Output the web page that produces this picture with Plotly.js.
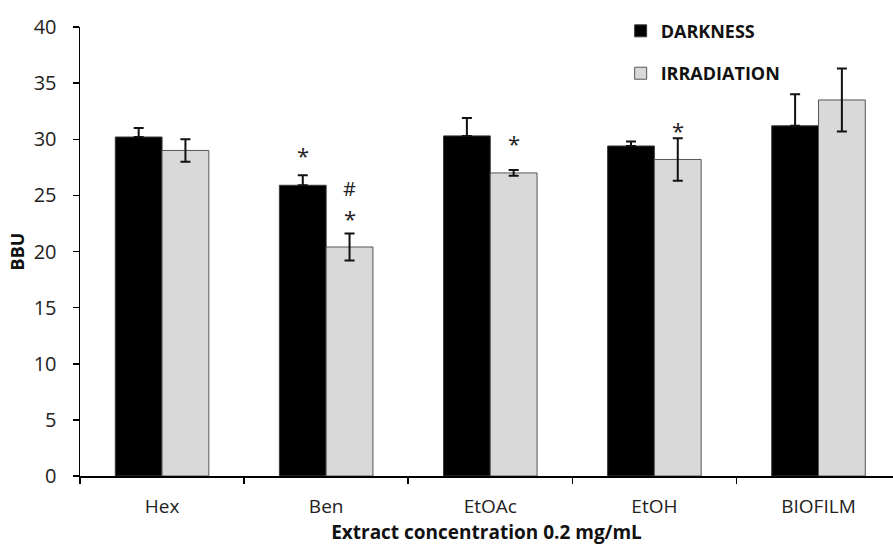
<!DOCTYPE html>
<html><head><meta charset="utf-8">
<script src="https://cdn.plot.ly/plotly-3.0.1.min.js"></script>
<style>html,body{margin:0;padding:0;background:#fff}#chart{width:893px;height:547px}</style>
</head><body><div id="chart"></div>
<script>
const categories = ["Hex", "Ben", "EtOAc", "EtOH", "BIOFILM"];
const darkness = [30.2, 25.9, 30.3, 29.4, 31.2];
const darknessErr = [0.8, 0.9, 1.6, 0.4, 2.8];
const irradiation = [29.0, 20.4, 27.0, 28.2, 33.5];
const irradiationErr = [1.0, 1.2, 0.25, 1.9, 2.8];
const marks = [
  {cat: "Ben", series: "dark", y: 28.6, text: "*"},
  {cat: "Ben", series: "light", y: 25.6, text: "#"},
  {cat: "Ben", series: "light", y: 23.0, text: "*"},
  {cat: "EtOAc", series: "light", y: 29.7, text: "*"},
  {cat: "EtOH", series: "light", y: 30.8, text: "*"}
];
const font = "Open Sans, Noto Sans, sans-serif";
const traces = [
  {type: "bar", name: "DARKNESS", x: categories, y: darkness,
   marker: {color: "#000000", line: {color: "#3a3a3a", width: 1}},
   error_y: {type: "data", array: darknessErr, arrayminus: darknessErr.map(() => 0), symmetric: false,
             color: "#111", thickness: 2, width: 5},
   legendgroup: "a"},
  {type: "bar", name: "IRRADIATION", x: categories, y: irradiation,
   marker: {color: "#d9d9d9", line: {color: "#555555", width: 1}},
   error_y: {type: "data", array: irradiationErr, symmetric: true, color: "#111", thickness: 2, width: 5},
   legendgroup: "b"}
];
const annotations = marks.map(m => ({
  x: m.cat, y: m.y, xref: "x", yref: "y", text: m.text, showarrow: false,
  xshift: m.series === "dark" ? -23.5 : 23.5,
  font: {family: font, size: m.text === "#" ? 20 : 22, color: "#222"}
}));
const layout = {
  width: 893, height: 547,
  margin: {l: 80, r: 0, t: 27, b: 71},
  paper_bgcolor: "#fff", plot_bgcolor: "#fff",
  barmode: "group", bargap: 0.43, bargroupgap: 0,
  showlegend: true,
  legend: {x: 0.665, y: 1.032, xanchor: "left", yanchor: "top", bgcolor: "rgba(0,0,0,0)",
    font: {family: font, size: 18, color: "#111", weight: "bold"},
    tracegroupgap: 16, itemwidth: 30},
  xaxis: {type: "category", range: [-0.5, 4.454], showline: true, linecolor: "#000", linewidth: 1.5,
    ticks: "outside", tickson: "boundaries", ticklen: 6, tickcolor: "#000", tickwidth: 1.5,
    ticklabelstandoff: 13,
    tickfont: {family: font, size: 19, color: "#222"}, showgrid: false, zeroline: false,
    title: {text: "<b>Extract concentration 0.2 mg/mL</b>", font: {family: font, size: 19, color: "#111"}, standoff: 4}},
  yaxis: {range: [0, 40], dtick: 5, showline: true, linecolor: "#000", linewidth: 1.5,
    ticks: "outside", ticklen: 6, tickcolor: "#000", tickwidth: 1.5, showgrid: false, zeroline: false,
    ticklabelstandoff: 12,
    tickfont: {family: font, size: 20, color: "#222"},
    title: {text: "<b>BBU</b>", font: {family: font, size: 18, color: "#111"}, standoff: 4}},
  annotations: annotations
};
Plotly.newPlot("chart", traces, layout, {displayModeBar: false, staticPlot: true});
</script></body></html>
